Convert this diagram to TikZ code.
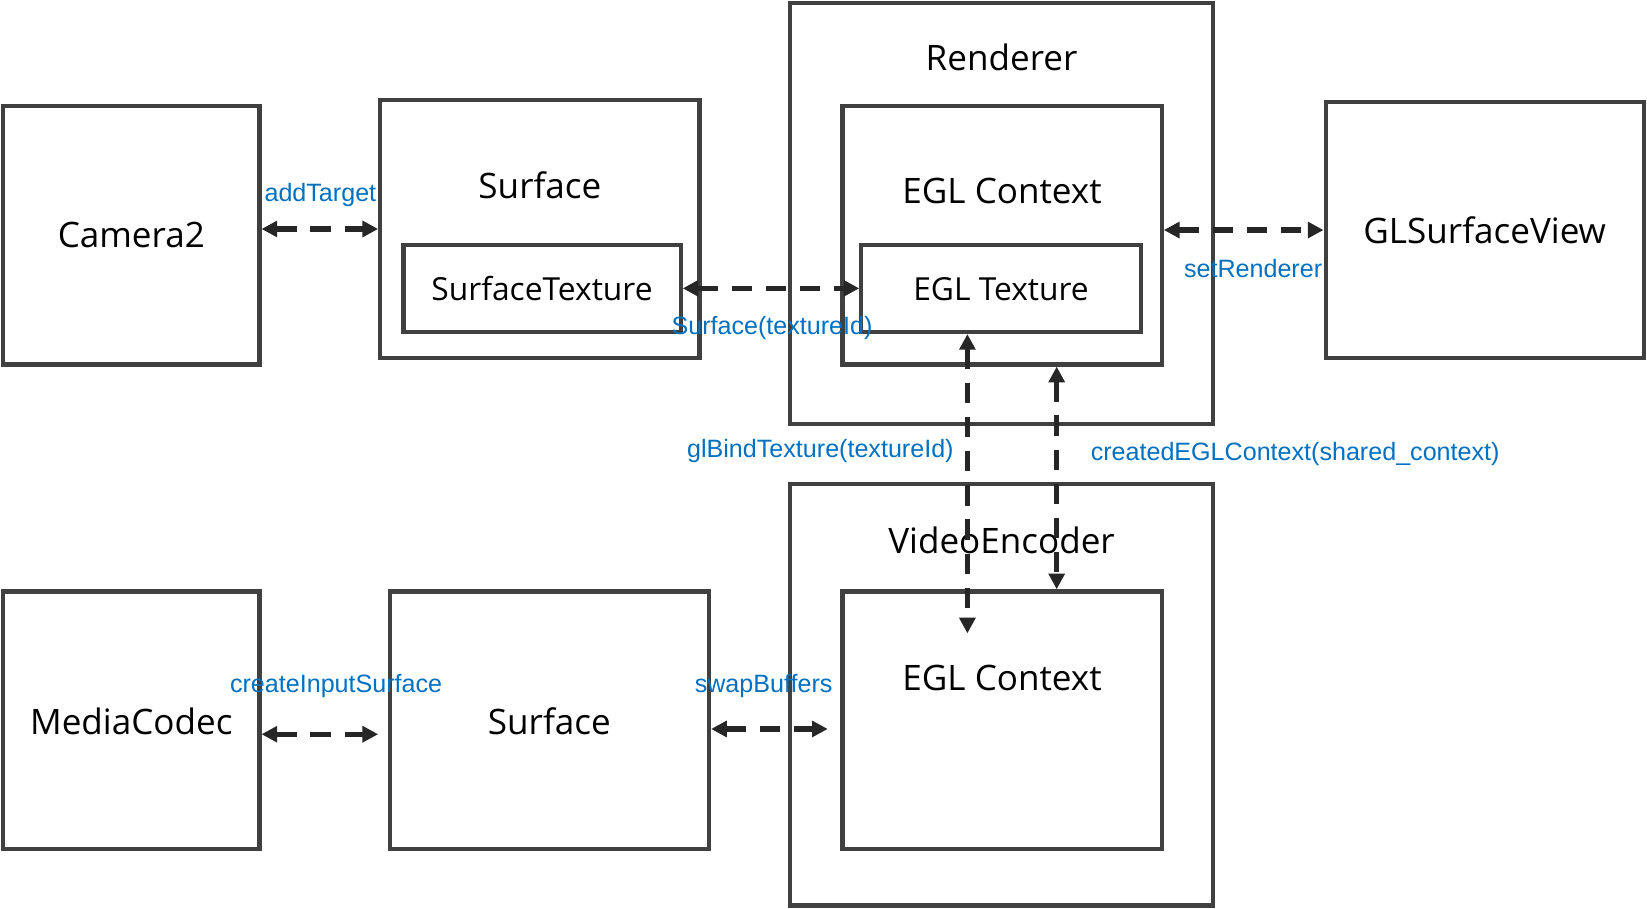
\documentclass[tikz,border=0pt]{standalone}
\usepackage{fontspec}
\setmainfont{Open Sans}
\newfontfamily\labelfont{Liberation Sans}
\usetikzlibrary{arrows.meta}
\definecolor{boxgray}{HTML}{404040}
\definecolor{arrowgray}{HTML}{262626}
\definecolor{callblue}{HTML}{0070C0}
\tikzset{
  box/.style={draw=boxgray,line width=2.3pt,inner sep=0pt},
  title/.style={font=\fontsize{19}{23}\selectfont,inner sep=0pt},
  subtitle/.style={font=\fontsize{17.2}{21}\selectfont,inner sep=0pt},
  call/.style={<->,>={Triangle[length=8.5pt,width=8.5pt]},draw=arrowgray,line width=2.8pt,dash pattern=on 11pt off 7.5pt},
  calllabel/.style={text=callblue,font=\labelfont\fontsize{13.6}{16}\selectfont,inner sep=0pt}
}
\begin{document}
\begin{tikzpicture}[x=0.02cm,y=-0.02cm]
    \useasboundingbox (0,0) rectangle (1568,864.5);
    % Top row
    \node[box,minimum width=4.88cm,minimum height=4.92cm] (cam) at (125,224) {};
    \node[title] (camt) at (125,224) {Camera2};
    \node[box,minimum width=6.08cm,minimum height=4.92cm] (surf1) at (514,218) {};
    \node[title] (surf1t) at (514,176) {Surface};
    \node[box,minimum width=5.28cm,minimum height=1.66cm] (stex) at (516,274.5) {};
    \node[subtitle] (stext) at (516,275) {SurfaceTexture};
    % Renderer
    \node[box,minimum width=8.06cm,minimum height=8.02cm] (rend) at (953.5,203.5) {};
    \node[title] (rendt) at (953.5,55) {Renderer};
    \node[box,minimum width=6.08cm,minimum height=4.92cm] (ctx1) at (954,224) {};
    \node[title] (ctx1t) at (954,182) {EGL Context};
    \node[box,minimum width=5.32cm,minimum height=1.66cm] (etex) at (953,274.5) {};
    \node[subtitle] (etext) at (953,275) {EGL Texture};
    \node[box,minimum width=6.06cm,minimum height=4.88cm] (glsv) at (1413.5,219) {};
    \node[title] (glsvt) at (1413.5,219) {GLSurfaceView};
    % Bottom row
    \node[box,minimum width=4.88cm,minimum height=4.9cm] (mc) at (125,685.5) {};
    \node[title] (mct) at (125,687) {MediaCodec};
    \node[box,minimum width=6.08cm,minimum height=4.9cm] (surf2) at (523,685.5) {};
    \node[title] (surf2t) at (523,687) {Surface};
    % VideoEncoder
    \node[box,minimum width=8.06cm,minimum height=8.02cm] (venc) at (953.5,661.5) {};
    \node[title] (venct) at (953.5,514) {VideoEncoder};
    \node[box,minimum width=6.08cm,minimum height=4.9cm] (ctx2) at (954,685.5) {};
    \node[title] (ctx2t) at (954,645) {EGL Context};
    % Calls
    \coordinate (bindend) at (921,603);
    \coordinate (sharex) at (1006,450);
    \draw[call] (cam.east |- surf1.west) -- (surf1.west);
    \draw[call] (stex.east) -- (etex.west);
    \draw[call] (ctx1.east |- glsv.west) -- (glsv.west);
    \draw[call] (bindend |- etex.south) -- (bindend);
    \draw[call] (sharex |- ctx1.south) -- (sharex |- ctx2.north);
    \draw[call,shorten >=1.8mm] ([yshift=-0.27cm]mc.east) -- ([yshift=-0.27cm]surf2.west);
    \draw[call,shorten >=2.4mm] ([yshift=-0.17cm]surf2.east) -- ([yshift=-0.17cm]ctx2.west);
    % Labels
    \node[calllabel] (addt) at (305,186) {addTarget};
    \node[calllabel] (surft) at (735,312) {Surface(textureId)};
    \node[calllabel] (setr) at (1193,256) {setRenderer};
    \node[calllabel] (bindt) at (781,429) {glBindTexture(textureId)};
    \node[calllabel] (shared) at (1233,432) {createdEGLContext(shared\_context)};
    \node[calllabel] (cis) at (320,653) {createInputSurface};
    \node[calllabel] (swap) at (727,653) {swapBuffers};
\end{tikzpicture}
\end{document}
